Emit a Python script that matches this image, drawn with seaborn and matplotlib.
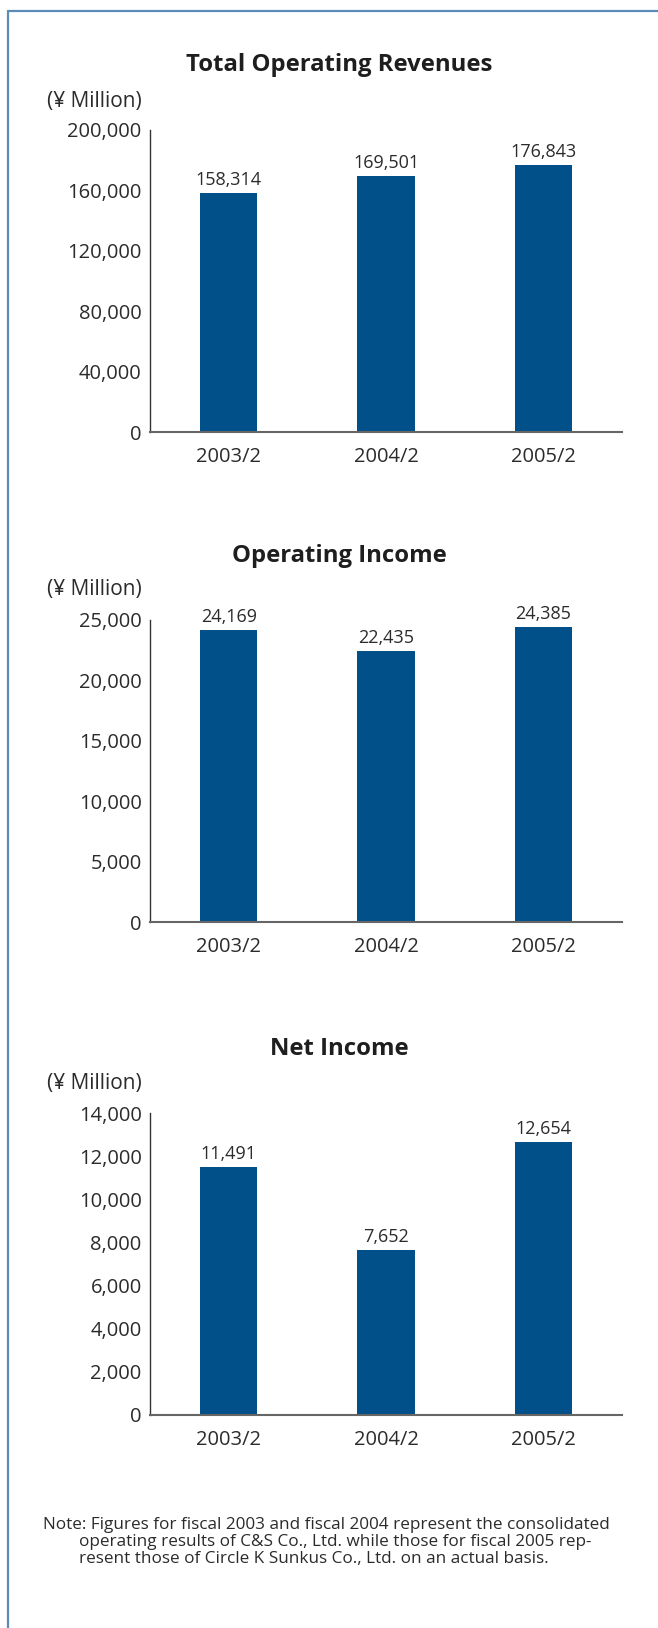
import matplotlib
matplotlib.use("Agg")
import matplotlib.pyplot as plt
from matplotlib.lines import Line2D
import seaborn as sns
import pandas as pd

# Fiscal years and results (¥ Million)
years = ["2003/2", "2004/2", "2005/2"]
revenues = [158314, 169501, 176843]
operating_income = [24169, 22435, 24385]
net_income = [11491, 7652, 12654]

titles = ["Total Operating Revenues", "Operating Income", "Net Income"]
rev_ticks = [0, 40000, 80000, 120000, 160000, 200000]
oi_ticks = [0, 5000, 10000, 15000, 20000, 25000]
ni_ticks = [0, 2000, 4000, 6000, 8000, 10000, 12000, 14000]
unit_label = "(¥ Million)"
note_lines = [
    "Note: Figures for fiscal 2003 and fiscal 2004 represent the consolidated",
    "operating results of C&S Co., Ltd. while those for fiscal 2005 rep-",
    "resent those of Circle K Sunkus Co., Ltd. on an actual basis.",
]

sns.set_theme(style="white")
plt.rcParams["font.family"] = ["Open Sans", "DejaVu Sans"]

W, H = 658, 1628
fig = plt.figure(figsize=(W / 100, H / 100), dpi=100)

BAR = "#02508a"
TXT = "#2b2b2b"
FRAME = "#5b8cb8"

# frame: top and left rules
fig.add_artist(Line2D([8 / W, 1.0], [1 - 11 / H, 1 - 11 / H], color=FRAME, lw=1.6,
                      transform=fig.transFigure))
fig.add_artist(Line2D([8 / W, 8 / W], [1 - 11 / H, 0.0], color=FRAME, lw=1.6,
                      transform=fig.transFigure))

panels = [
    (revenues, rev_ticks, 432, 65, 101),
    (operating_income, oi_ticks, 922, 556, 590),
    (net_income, ni_ticks, 1415, 1049, 1083),
]

ax_left, ax_right, ax_h = 150, 622, 302
for (values, ticks, y0, title_y, unit_y), title in zip(panels, titles):
    ax = fig.add_axes([ax_left / W, 1 - y0 / H, (ax_right - ax_left) / W, ax_h / H])
    df = pd.DataFrame({"year": years, "value": values})
    sns.barplot(data=df, x="year", y="value", color=BAR, saturation=1,
                width=0.363, ax=ax, linewidth=0)
    ax.set_ylim(0, ticks[-1])
    ax.set_xlim(-0.5, len(years) - 0.5)
    ax.set_yticks(ticks)
    ax.set_yticklabels([f"{t:,}" for t in ticks])
    ax.set_xlabel("")
    ax.set_ylabel("")
    ax.tick_params(axis="y", length=0, pad=6, labelsize=14.5, labelcolor=TXT)
    ax.tick_params(axis="x", length=0, pad=11, labelsize=14.5, labelcolor=TXT)
    for s in ["top", "right"]:
        ax.spines[s].set_visible(False)
    ax.spines["left"].set_color("#333333")
    ax.spines["left"].set_linewidth(1.0)
    ax.spines["bottom"].set_color("#666666")
    ax.spines["bottom"].set_linewidth(1.5)
    ax.grid(False)
    for i, v in enumerate(values):
        ax.annotate(f"{v:,}", (i, v), xytext=(0, 3), textcoords="offset points",
                    ha="center", va="bottom", fontsize=13, color=TXT)
    fig.text(339 / W, 1 - title_y / H, title, ha="center", va="center",
             fontsize=17.2, fontweight="bold", color="#1e1e1e")
    fig.text(142 / W, 1 - unit_y / H, unit_label, ha="right", va="center",
             fontsize=15, color=TXT)

for k, (x, txt) in enumerate(zip([43, 79, 79], note_lines)):
    fig.text(x / W, 1 - (1525 + 17 * k) / H, txt, ha="left", va="center",
             fontsize=12.3, color=TXT)

fig.savefig("out.png", dpi=100, facecolor="white")
